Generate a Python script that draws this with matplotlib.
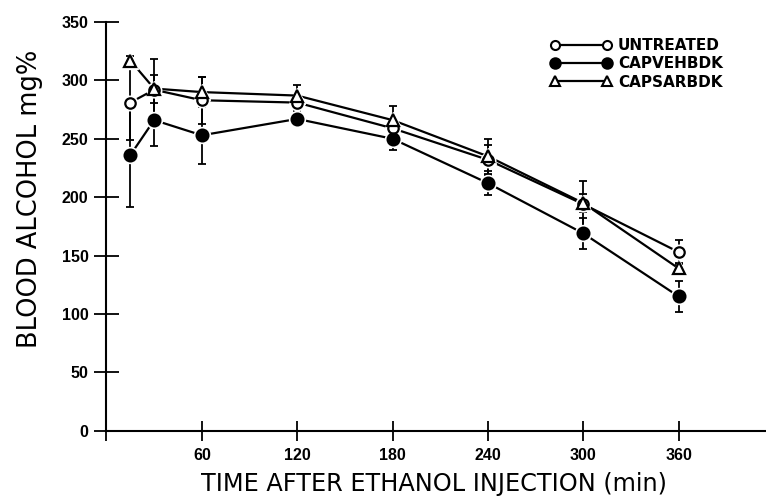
import matplotlib
matplotlib.use("Agg")
import matplotlib.pyplot as plt
from matplotlib.lines import Line2D

# Data
times = [15, 30, 60, 120, 180, 240, 300, 360]
untreated = [281, 292, 283, 281, 259, 232, 194, 153]
untreated_err = [32, 26, 20, 6, 8, 13, 20, 10]
capveh = [236, 266, 253, 267, 250, 212, 169, 115]
capveh_err = [44, 22, 25, 6, 10, 10, 13, 13]
capsar = [317, 293, 290, 287, 266, 235, 195, 139]
capsar_err = [4, 12, 13, 9, 12, 15, 8, 5]

series_names = ["UNTREATED", "CAPVEHBDK", "CAPSARBDK"]
xticks = [0, 60, 120, 180, 240, 300, 360]
xtick_labels = ["", "60", "120", "180", "240", "300", "360"]
yticks = [0, 50, 100, 150, 200, 250, 300, 350]

fig = plt.figure(figsize=(7.66, 4.97), dpi=100)
ax = fig.add_axes([0.139, 0.1334, 0.861, 0.8223])

styles = [
    dict(marker="o", mfc="white", ms=7.5),
    dict(marker="o", mfc="black", ms=8.5),
    dict(marker="^", mfc="white", ms=8),
]
data = [(untreated, untreated_err), (capveh, capveh_err), (capsar, capsar_err)]

for (vals, err), st in zip(data, styles):
    ax.plot(times, vals, color="black", lw=1.6, zorder=2)
    ax.errorbar(times, vals, yerr=err, fmt="none", ecolor="black",
                elinewidth=1.3, capsize=3, capthick=1.3, zorder=3)
for (vals, err), st in zip(data, styles):
    # white halo so the joining lines stop short of the symbols
    ax.plot(times, vals, ls="none", marker=st["marker"], ms=st["ms"] + 3,
            mfc="white", mec="white", zorder=4)
    ax.plot(times, vals, ls="none", marker=st["marker"], ms=st["ms"],
            mfc=st["mfc"], mec="black", mew=1.6, zorder=5)

ax.set_xlim(0, 415)
ax.set_ylim(0, 350)
ax.spines["top"].set_visible(False)
ax.spines["right"].set_visible(False)
ax.spines["left"].set_linewidth(1.5)
ax.spines["bottom"].set_linewidth(1.5)
ax.set_xticks(xticks)
ax.set_xticklabels(xtick_labels)
ax.set_yticks(yticks)
ax.tick_params(axis="y", direction="inout", length=18, width=1.3, pad=4)
ax.tick_params(axis="x", direction="inout", length=15, width=1.3, pad=5)
for lab in ax.get_xticklabels() + ax.get_yticklabels():
    lab.set_fontfamily("Liberation Sans")
    lab.set_fontweight("bold")
    lab.set_fontsize(11.5)

fig.text(30 / 766, 1 - 199 / 497, "BLOOD ALCOHOL mg%", rotation=90,
         ha="center", va="center", fontsize=18.5, family="DejaVu Sans")
fig.text(434 / 766, 1 - 484 / 497, "TIME AFTER ETHANOL INJECTION (min)",
         ha="center", va="center", fontsize=17.3, family="DejaVu Sans")

handles = [Line2D([], [], color="black", lw=1.6, marker=st["marker"],
                  ms=st["ms"] - 1, mfc=st["mfc"], mec="black", mew=1.5)
           for st in styles]
ax.legend(handles, series_names, loc="upper left", frameon=False,
          bbox_to_anchor=(550 / 766, 1 - 38 / 497), bbox_transform=fig.transFigure,
          numpoints=2, handlelength=4.0, handletextpad=0.45, labelspacing=0.22,
          borderpad=0, borderaxespad=0,
          prop=dict(family="DejaVu Sans", weight="bold", size=11))

fig.savefig("out.png", dpi=100)
